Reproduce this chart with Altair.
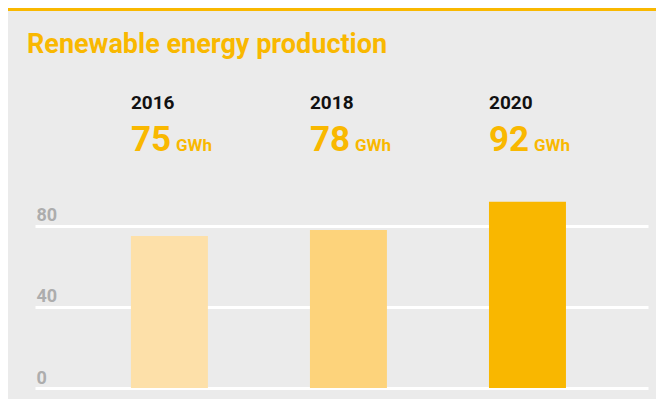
import altair as alt
import pandas as pd

# ---- data ----
years = ["2016", "2018", "2020"]
values = [75, 78, 92]
bar_colors = ["#FDE0A9", "#FDD37B", "#F9B700"]
y_ticks = [0, 40, 80]
title_text = "Renewable energy production"
unit = "GWh"

YELLOW = "#F9B800"
FONT = "Roboto"

df = pd.DataFrame({"year": years, "value": values, "label": [str(v) for v in values]})
df["unit"] = unit

x_enc = alt.X(
    "year:N",
    sort=years,
    axis=None,
    scale=alt.Scale(paddingInner=0.57, paddingOuter=0.497, align=0.539),
)
x_start = alt.X("year:N", sort=years, axis=None, bandPosition=0)

bars = alt.Chart(df).mark_bar().encode(
    x=x_enc,
    y=alt.Y(
        "value:Q",
        scale=alt.Scale(domain=[0, 157], nice=False),
        axis=alt.Axis(
            values=y_ticks,
            grid=True,
            gridColor="#FFFFFF",
            gridWidth=3,
            gridOpacity=1,
            domain=False,
            ticks=False,
            tickSize=0,
            labelAlign="left",
            labelPadding=-1,
            labelBaseline="alphabetic",
            labelOffset=-5,
            labelColor="#ADADAD",
            labelFontSize=18,
            labelFontWeight="bold",
            labelFont=FONT,
            title=None,
        ),
    ),
    color=alt.Color("year:N", scale=alt.Scale(domain=years, range=bar_colors), legend=None),
)

year_text = alt.Chart(df).mark_text(
    align="left", baseline="alphabetic", font=FONT, fontSize=19, fontWeight="bold", color="#111111"
).encode(x=x_start, y=alt.value(38.5), text="year:N")

value_text = alt.Chart(df).mark_text(
    align="left", baseline="alphabetic", font=FONT, fontSize=35, fontWeight="bold", color=YELLOW
).encode(x=x_start, y=alt.value(81), text="label:N")

unit_text = alt.Chart(df).mark_text(
    align="left", baseline="alphabetic", font=FONT, fontSize=17, fontWeight="bold", color=YELLOW, dx=45
).encode(x=x_start, y=alt.value(81), text="unit:N")

title_layer = alt.Chart(pd.DataFrame({"t": [title_text]})).mark_text(
    align="left", baseline="alphabetic", font=FONT, fontSize=27, fontWeight="bold", color=YELLOW
).encode(x=alt.value(-8), y=alt.value(-17), text="t:N")

top_rule = alt.Chart(pd.DataFrame({"t": [title_text]})).mark_rule(
    color=YELLOW, strokeWidth=3
).encode(x=alt.value(-27), x2=alt.value(621), y=alt.value(-60.5))

chart = (
    alt.layer(bars, year_text, value_text, unit_text, title_layer, top_rule)
    .properties(
        width=613,
        height=318,
        padding={"left": 27, "top": 62, "right": 8, "bottom": 11},
        autosize=alt.AutoSizeParams(type="none"),
        background="#EBEBEB",
    )
    .configure_view(stroke=None)
)

chart.save("out.html", embed_options={"renderer": "svg", "actions": False})
